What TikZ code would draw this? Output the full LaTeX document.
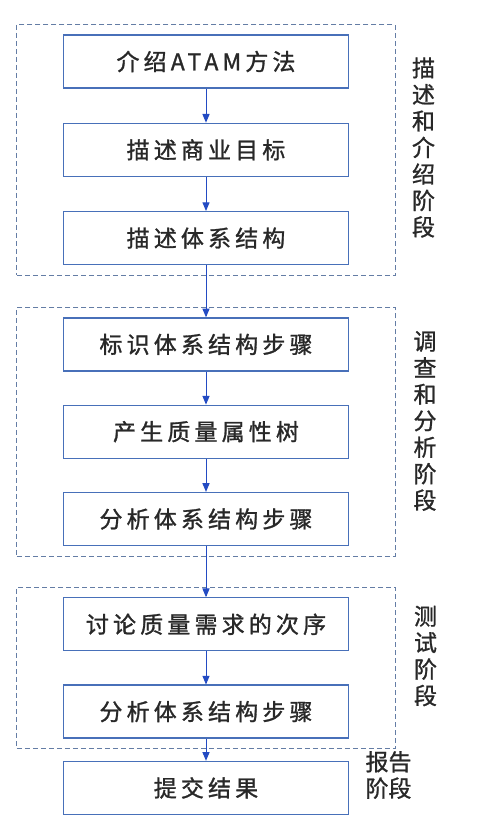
\documentclass[tikz,border=0pt]{standalone}
\usepackage{fontspec}
\newfontfamily\cjk[LetterSpace=18,FakeBold=1.2]{Noto Sans CJK SC}
\newfontfamily\cjktag[FakeBold=1]{Noto Sans CJK SC}
\usetikzlibrary{positioning,fit,arrows}
\definecolor{boxblue}{RGB}{72,112,185}
\definecolor{arrowblue}{RGB}{35,75,195}
\definecolor{dashgray}{RGB}{100,125,165}
\definecolor{textgray}{RGB}{40,40,40}
\tikzstyle{box} = [draw=boxblue, line width=1.3pt, minimum width=285pt, minimum height=53pt, inner sep=0pt, text=textgray, font=\cjk\fontsize{23}{26}\selectfont]
\tikzstyle{phase} = [draw=dashgray, line width=1.2pt, dash pattern=on 5pt off 3pt, inner xsep=46pt, inner ysep=10pt]
\tikzstyle{flow} = [-triangle 45, draw=arrowblue, line width=1pt]
\tikzstyle{tag} = [align=center, inner sep=0pt, text=textgray, font=\cjktag\fontsize{23}{26.5}\selectfont]

\begin{document}
\begin{tikzpicture}[x=1pt, y=1pt]
\useasboundingbox (0,0) rectangle (497,-827);
% first phase
\node[box] (intro) at (206,-61.5) {介绍ATAM方法};
\node[box, below=34pt of intro] (goal) {描述商业目标};
\node[box, below=34pt of goal] (arch) {描述体系结构};
% second phase
\node[box, below=52pt of arch] (steps) {标识体系结构步骤};
\node[box, below=33pt of steps] (tree) {产生质量属性树};
\node[box, below=33pt of tree] (analyse) {分析体系结构步骤};
% third phase
\node[box, below=51pt of analyse] (order) {讨论质量需求的次序};
\node[box, below=33pt of order] (recheck) {分析体系结构步骤};
% report
\node[box, below=22pt of recheck] (report) {提交结果};

\node[phase, fit=(intro)(arch)] (p1) {};
\node[phase, fit=(steps)(analyse)] (p2) {};
\node[phase, fit=(order)(recheck)] (p3) {};

\node[tag] (t1) at (423.5,-147.5) {描\\述\\和\\介\\绍\\阶\\段};
\node[tag] (t2) at (425,-421) {调\\查\\和\\分\\析\\阶\\段};
\node[tag] (t3) at (425.5,-656) {测\\试\\阶\\段};
\node[tag] (t4) at (388.5,-775) {报告\\阶段};

\draw[flow] (intro) -- (goal);
\draw[flow] (goal) -- (arch);
\draw[flow] (arch) -- (steps);
\draw[flow] (steps) -- (tree);
\draw[flow] (tree) -- (analyse);
\draw[flow] (analyse) -- (order);
\draw[flow] (order) -- (recheck);
\draw[flow] (recheck) -- (report);
\end{tikzpicture}
\end{document}
